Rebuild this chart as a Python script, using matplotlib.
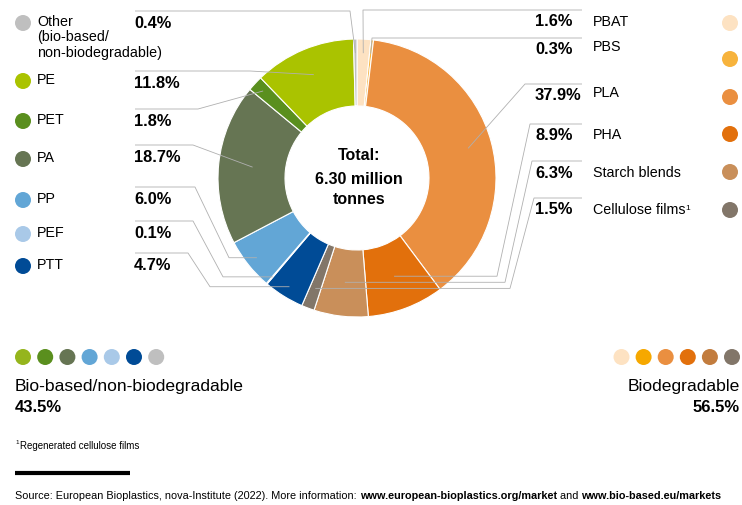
import numpy as np
import matplotlib
matplotlib.use('Agg')
import matplotlib.pyplot as plt
from matplotlib.patches import Circle

plt.rcParams['font.family'] = ['Liberation Sans', 'DejaVu Sans']

# shares of global bioplastics capacity, clockwise from the top of the ring
materials = ['PBAT', 'PBS', 'PLA', 'PHA', 'Starch blends', 'Cellulose films',
             'PTT', 'PEF', 'PP', 'PA', 'PET', 'PE', 'Other']
shares = [1.6, 0.3, 37.9, 8.9, 6.3, 1.5, 4.7, 0.1, 6.0, 18.7, 1.8, 11.8, 0.4]
colors = ['#fde2c2', '#f7b33c', '#ea8f40', '#e2700c', '#c98f5a', '#827669',
          '#004b96', '#a9c9e8', '#62a6d6', '#667553', '#5a8f1e', '#aac300', '#bfbfbf']
group_names = ['Bio-based/non-biodegradable', 'Biodegradable']
group_shares = [43.5, 56.5]
total_mt = 6.30

dot_green = ['#95b51d', '#5a8f1e', '#667553', '#62a6d6', '#a9c9e8', '#004b96', '#bfbfbf']
dot_orange = ['#fde2c2', '#f6a800', '#ea8f40', '#e2700c', '#c27c3e', '#827669']

# label layout (image pixels, y down)
cx, cy, R, W = 357, 178, 139, 67
left_order = ['Other', 'PE', 'PET', 'PA', 'PP', 'PEF', 'PTT']
left_y = [22, 80, 120, 158, 199, 233, 265]
left_pct_y = [23, 83, 121, 157, 199, 233, 265]
left_names = [['Other', '(bio-based/', 'non-biodegradable)'], ['PE'], ['PET'], ['PA'],
              ['PP'], ['PEF'], ['PTT']]
# route: (x of end of top line, second elbow x or None, anchor radius)
left_route = [(350, None, 125), (250, None, 112), (198, None, 128), (193, None, 105),
              (195, 229, 128), (193, 223, 130), (188, 210, 128)]
right_order = ['PBAT', 'PBS', 'PLA', 'PHA', 'Starch blends', 'Cellulose films']
right_names = ['PBAT', 'PBS', 'PLA', 'PHA', 'Starch blends', 'Cellulose films']
right_y = [22, 47, 93, 135, 173, 210]
right_pct_y = [22, 50, 96, 136, 173, 210]
right_dot_y = [23, 59, 97, 134, 172, 210]
right_route = [(363, None, 125), (372, None, 125), (525, None, 115),
               (530, 497, 105), (532, 505, 105), (534, 510, 118)]

fig = plt.figure(figsize=(7.42, 5.05), dpi=100)
ax = fig.add_axes([0, 0, 1, 1])

wedges, _ = ax.pie(shares, colors=colors, startangle=-90, counterclock=True,
                   radius=R, center=(cx, cy),
                   wedgeprops=dict(width=W, edgecolor='white', linewidth=0.8))
ax.set_xlim(0, 742)
ax.set_ylim(505, 0)
ax.set_aspect('equal')
ax.axis('off')


def anchor(name, r):
    w = wedges[materials.index(name)]
    th = np.deg2rad((w.theta1 + w.theta2) / 2)
    return cx + r * np.cos(th), cy + r * np.sin(th)


line_kw = dict(color='#b0b0b0', lw=0.6, zorder=3, solid_capstyle='butt')

ax.text(cx + 2, cy - 23, 'Total:', ha='center', va='center', fontsize=11.5, fontweight='bold')
ax.text(cx + 2, cy + 1, f'{total_mt:.2f} million', ha='center', va='center',
        fontsize=11.5, fontweight='bold')
ax.text(cx + 2, cy + 21, 'tonnes', ha='center', va='center', fontsize=11.5, fontweight='bold')

# left side (bio-based/non-biodegradable)
for name, lines, y, py, (xe, x2, r) in zip(left_order, left_names, left_y, left_pct_y, left_route):
    i = materials.index(name)
    ax.add_patch(Circle((23, y + 1), 8, color=colors[i], lw=0))
    for k, s in enumerate(lines):
        ax.text(37, y + 15.5 * k, s, ha='left', va='center', fontsize=10.3)
    ax.text(134, py, f'{shares[i]:.1f}%', ha='left', va='center', fontsize=11.8, fontweight='bold')
    ly = py - 12
    ax_, ay = anchor(name, r)
    xs, ys = [135, xe], [ly, ly]
    if x2 is not None:
        xs += [x2]
        ys += [ay]
    xs.append(ax_)
    ys.append(ay)
    ax.plot(xs, ys, **line_kw)

# right side (biodegradable)
for name, lbl, y, py, dy, (xe, x2, r) in zip(right_order, right_names, right_y, right_pct_y,
                                             right_dot_y, right_route):
    i = materials.index(name)
    ax.add_patch(Circle((730, dy), 8, color=colors[i], lw=0))
    t = ax.text(593, y, lbl, ha='left', va='center', fontsize=10.3)
    if name == 'Cellulose films':
        ax.annotate('1', xy=(1, 0.62), xycoords=t, ha='left', va='center', fontsize=6)
    ax.text(535, py, f'{shares[i]:.1f}%', ha='left', va='center', fontsize=11.8, fontweight='bold')
    ly = py - 12
    ax_, ay = anchor(name, r)
    xs, ys = [582, xe], [ly, ly]
    if x2 is not None:
        xs += [x2]
        ys += [ay]
    xs.append(ax_)
    ys.append(ay)
    ax.plot(xs, ys, **line_kw)

# group dots and totals
for k, c in enumerate(dot_green):
    ax.add_patch(Circle((23 + 22.2 * k, 357), 8, color=c, lw=0))
for k, c in enumerate(dot_orange):
    ax.add_patch(Circle((621.5 + 22.1 * k, 357), 8, color=c, lw=0))

ax.text(15, 386, group_names[0], ha='left', va='center', fontsize=12.6)
ax.text(15, 408, f'{group_shares[0]:.1f}%', ha='left', va='center', fontsize=12, fontweight='bold')
ax.text(740, 386, group_names[1], ha='right', va='center', fontsize=12.6)
ax.text(740, 408, f'{group_shares[1]:.1f}%', ha='right', va='center', fontsize=12, fontweight='bold')

ax.text(20, 446, 'Regenerated cellulose films', ha='left', va='center', fontsize=7)
ax.text(15, 443, '1', ha='left', va='center', fontsize=4.5)

ax.plot([15, 130], [473, 473], color='black', lw=3, solid_capstyle='butt')

parts = [('Source: European Bioplastics, nova-Institute (2022). More information: ', 'normal'),
         ('www.european-bioplastics.org/market', 'bold'),
         (' and ', 'normal'),
         ('www.bio-based.eu/markets', 'bold')]
t = ax.text(15, 496, parts[0][0], ha='left', va='center', fontsize=7.8, fontweight=parts[0][1])
for s, wgt in parts[1:]:
    t = ax.annotate(s, xy=(1, 0), xycoords=t, ha='left', va='bottom', fontsize=7.8,
                    fontweight=wgt)

fig.savefig('out.png', dpi=100)
